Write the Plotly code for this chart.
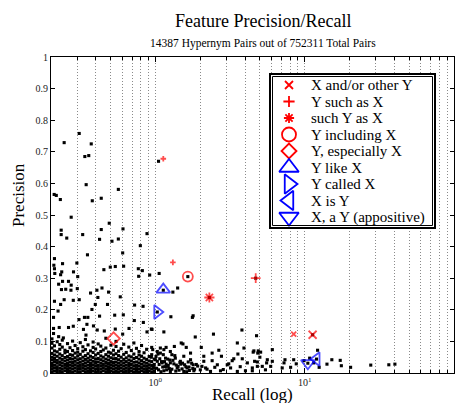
import plotly.graph_objects as go

# ---------------- data ----------------
upper_recall = [0.210, 0.217, 0.231, 0.245, 0.273, 0.309, 0.337, 0.358, 0.372, 0.344, 0.378, 0.434, 0.565, 1.05]
upper_precision = [0.565, 0.562, 0.549, 0.729, 0.493, 0.758, 0.685, 0.688, 0.725, 0.596, 0.545, 0.553, 0.581, 0.670]

mid_recall = [0.234, 0.234, 0.255, 0.326, 0.434, 0.423, 0.491, 0.512, 0.565, 0.607, 0.793, 0.879,
              0.211, 0.351, 0.604, 0.239, 0.209, 0.298, 0.211, 0.212, 0.236, 0.232, 0.283, 0.302, 0.452, 0.499, 0.539, 0.613, 0.769, 0.818, 0.773, 0.916,
              0.225, 0.239, 0.262, 0.273, 0.251, 0.235, 0.272, 0.300, 0.406, 0.368, 0.439, 0.486,
              0.211, 0.245, 0.282, 0.309, 0.396, 0.412, 0.478, 0.582, 0.726, 0.827, 0.223, 0.232,
              0.335, 0.353, 0.376, 0.308, 0.208, 0.423, 0.534, 0.610, 0.723, 0.831, 0.940, 0.879,
              0.208, 0.227, 0.262, 0.282, 0.348, 0.330, 0.385, 0.408, 0.455, 0.539, 0.666, 0.604, 0.208, 0.225, 0.242, 0.343]
mid_precision = [0.452, 0.438, 0.427, 0.438, 0.454, 0.423, 0.474, 0.417, 0.424, 0.456, 0.403, 0.441,
                 0.362, 0.374, 0.380, 0.346, 0.341, 0.348, 0.330, 0.315, 0.320, 0.311, 0.320, 0.305, 0.327, 0.335, 0.337, 0.338, 0.330, 0.324, 0.306, 0.310,
                 0.281, 0.290, 0.290, 0.278, 0.265, 0.264, 0.262, 0.267, 0.262, 0.253, 0.269, 0.256,
                 0.227, 0.232, 0.230, 0.232, 0.217, 0.239, 0.217, 0.241, 0.215, 0.211, 0.196, 0.217,
                 0.176, 0.176, 0.201, 0.169, 0.176, 0.180, 0.183, 0.184, 0.166, 0.160, 0.139, 0.130,
                 0.141, 0.144, 0.144, 0.148, 0.154, 0.138, 0.149, 0.136, 0.133, 0.139, 0.141, 0.123, 0.125, 0.115, 0.111, 0.120]

right_recall = [1.06, 1.31, 1.41, 1.13, 1.27, 1.79, 1.77, 0.95, 1.14, 1.85, 2.45, 3.80, 4.76, 1.65, 2.30, 4.70, 1.03,
                1.49, 1.53, 1.61, 1.34, 1.18, 1.14, 1.26, 1.08, 0.94, 2.03, 2.66, 2.77, 3.35, 3.57, 3.92, 4.52, 4.89, 3.82, 3.27,
                4.13, 4.82, 4.46, 3.03, 3.19, 2.60, 2.40, 2.11, 2.17, 2.00, 1.72, 1.79, 1.63, 1.47, 1.40, 1.36, 1.26, 1.17, 1.20, 1.11,
                1.03, 0.97, 1.05, 1.14, 1.26, 1.55, 1.81, 2.34, 2.73, 3.54, 4.01, 1.00, 1.08, 1.03, 0.96, 1.29, 1.72, 1.55, 2.11, 2.40, 3.54,
                4.57, 4.85, 5.07, 5.01, 4.62, 4.82, 5.20, 5.46, 4.46, 5.62, 5.56, 6.07, 6.07, 5.92, 7.07, 7.38, 7.27, 8.05, 8.44, 8.78,
                12.2, 10.8, 11.5, 12.5, 14.1, 15.2, 17.3, 17.6, 20.3, 9.9, 27.7, 36.6, 40.2, 11.3, 12.0, 10.5]
right_precision = [0.315, 0.256, 0.269, 0.262, 0.178, 0.181, 0.176, 0.138, 0.130, 0.114, 0.123, 0.136, 0.118, 0.305, 0.239, 0.300, 0.193,
                   0.095, 0.092, 0.081, 0.084, 0.081, 0.074, 0.068, 0.063, 0.050, 0.081, 0.072, 0.053, 0.045, 0.060, 0.079, 0.066, 0.070, 0.045, 0.039,
                   0.032, 0.035, 0.016, 0.026, 0.016, 0.026, 0.039, 0.037, 0.016, 0.010, 0.042, 0.026, 0.016, 0.037, 0.016, 0.047, 0.032, 0.047, 0.021, 0.032,
                   0.037, 0.021, 0.010, 0.007, 0.005, 0.005, 0.007, 0.005, 0.007, 0.005, 0.007, 0.042, 0.079, 0.068, 0.074, 0.058, 0.063, 0.053, 0.053, 0.063, 0.095,
                   0.070, 0.063, 0.066, 0.050, 0.037, 0.021, 0.021, 0.010, 0.007, 0.042, 0.032, 0.074, 0.037, 0.021, 0.016, 0.042, 0.032, 0.018, 0.042, 0.029,
                   0.072, 0.047, 0.032, 0.018, 0.028, 0.042, 0.040, 0.023, 0.018, 0.039, 0.025, 0.026, 0.028, 0.121, 0.044, 0.031]

tail_recall = [1.02, 1.06, 1.09, 1.12, 1.15, 1.19, 1.22, 1.25, 1.29, 1.33, 1.37, 1.42, 1.46, 1.51, 1.57, 1.62, 1.68, 1.75, 1.83, 1.92,
               1.01, 1.07, 1.13, 1.18, 1.24, 1.31, 1.38, 1.44, 1.52, 1.60, 1.69, 1.78, 1.88, 2.05, 2.22, 2.50, 2.85, 3.10, 3.70,
               1.04, 1.10, 1.16, 1.21, 1.35, 1.48, 1.66]
tail_precision = [0.015, 0.027, 0.004, 0.019, 0.036, 0.010, 0.024, 0.041, 0.012, 0.029, 0.006, 0.021, 0.033, 0.013, 0.026, 0.004, 0.019, 0.031, 0.012, 0.022,
                  0.052, 0.045, 0.058, 0.028, 0.014, 0.040, 0.025, 0.009, 0.031, 0.020, 0.008, 0.014, 0.027, 0.021, 0.012, 0.018, 0.011, 0.029, 0.020,
                  0.060, 0.036, 0.020, 0.044, 0.055, 0.028, 0.035]

# dense cloud at low recall / low precision: recall of each column and the precisions read in it
dense_recall = [0.203, 0.211, 0.220, 0.229, 0.238, 0.248, 0.258, 0.268, 0.279, 0.290, 0.302, 0.314, 0.327, 0.340,
                0.354, 0.368, 0.383, 0.398, 0.414, 0.431, 0.448, 0.466, 0.485, 0.504, 0.524, 0.545, 0.567, 0.590,
                0.614, 0.638, 0.664, 0.690, 0.718, 0.747, 0.777, 0.808, 0.840, 0.874, 0.909, 0.945, 0.983]
dense_precision = [
    [0.003, 0.012, 0.021, 0.030, 0.041, 0.050, 0.062, 0.079, 0.094, 0.108],
    [0.006, 0.016, 0.025, 0.036, 0.046, 0.057, 0.070, 0.086],
    [0.002, 0.011, 0.020, 0.031, 0.040, 0.053, 0.067, 0.099],
    [0.005, 0.015, 0.026, 0.035, 0.047, 0.060, 0.075, 0.090],
    [0.003, 0.012, 0.022, 0.032, 0.043, 0.055, 0.082, 0.104],
    [0.007, 0.017, 0.027, 0.038, 0.049, 0.064, 0.072],
    [0.002, 0.011, 0.021, 0.030, 0.041, 0.052, 0.068, 0.093],
    [0.005, 0.015, 0.025, 0.035, 0.046, 0.058, 0.080],
    [0.003, 0.013, 0.023, 0.033, 0.044, 0.056, 0.071, 0.101],
    [0.006, 0.016, 0.026, 0.037, 0.048, 0.063, 0.087],
    [0.002, 0.012, 0.021, 0.031, 0.042, 0.054, 0.066, 0.077],
    [0.004, 0.014, 0.024, 0.034, 0.045, 0.059, 0.096],
    [0.007, 0.017, 0.027, 0.038, 0.050, 0.069, 0.083],
    [0.003, 0.012, 0.022, 0.032, 0.043, 0.055, 0.074, 0.106],
    [0.005, 0.015, 0.025, 0.036, 0.047, 0.061, 0.089],
    [0.002, 0.011, 0.021, 0.030, 0.041, 0.053, 0.070],
    [0.006, 0.016, 0.026, 0.037, 0.049, 0.065, 0.081, 0.098],
    [0.003, 0.013, 0.023, 0.033, 0.044, 0.057, 0.076],
    [0.005, 0.014, 0.024, 0.035, 0.046, 0.062, 0.092],
    [0.002, 0.012, 0.022, 0.031, 0.042, 0.054, 0.068, 0.085],
    [0.007, 0.017, 0.027, 0.038, 0.050, 0.073],
    [0.004, 0.013, 0.023, 0.033, 0.044, 0.058, 0.079, 0.110],
    [0.002, 0.011, 0.020, 0.030, 0.041, 0.053, 0.066],
    [0.006, 0.016, 0.026, 0.036, 0.048, 0.063, 0.088],
    [0.003, 0.013, 0.023, 0.033, 0.045, 0.057, 0.072],
    [0.005, 0.015, 0.025, 0.035, 0.046, 0.061, 0.084, 0.100],
    [0.002, 0.012, 0.021, 0.031, 0.042, 0.055, 0.069],
    [0.006, 0.016, 0.026, 0.037, 0.050, 0.077],
    [0.003, 0.012, 0.022, 0.032, 0.043, 0.059, 0.091],
    [0.005, 0.015, 0.025, 0.036, 0.048, 0.065],
    [0.002, 0.011, 0.021, 0.030, 0.041, 0.054, 0.082],
    [0.006, 0.016, 0.027, 0.038, 0.051, 0.071],
    [0.003, 0.013, 0.023, 0.034, 0.046, 0.060, 0.095],
    [0.005, 0.014, 0.024, 0.035, 0.049, 0.078],
    [0.002, 0.012, 0.022, 0.032, 0.044, 0.057, 0.068],
    [0.007, 0.017, 0.028, 0.039, 0.053, 0.087],
    [0.004, 0.013, 0.023, 0.034, 0.047, 0.064],
    [0.002, 0.011, 0.021, 0.031, 0.043, 0.075],
    [0.006, 0.016, 0.026, 0.038, 0.052],
    [0.003, 0.013, 0.024, 0.036, 0.058, 0.081],
    [0.005, 0.015, 0.027, 0.044],
]

# pattern features
feature_names = ["X and/or other Y", "Y such as X", "such Y as X", "Y including X", "Y, especially X",
                 "Y like X", "Y called X", "X is Y", "X, a Y (appositive)"]
feature_recall = [[8.44, 11.3], [1.13, 1.31, 4.70], [2.30], [1.65], [0.525], [1.13], [1.03], [12.0], [10.5]]
feature_precision = [[0.123, 0.121], [0.678, 0.350, 0.300], [0.239], [0.305], [0.109], [0.264], [0.193], [0.044], [0.031]]

title_text = "Feature Precision/Recall"
subtitle_text = "14387 Hypernym Pairs out of 752311 Total Pairs"
x_label = "Recall (log)"
y_label = "Precision"
x_tickvals = [1, 10, 100]
x_ticktext = ["10<sup>0</sup>", "10<sup>1</sup>", "10<sup>2</sup>"]
x_minor_vals = [0.3, 0.4, 0.5, 0.6, 0.7, 0.8, 0.9, 2, 3, 4, 5, 6, 7, 8, 9, 20, 30, 40, 50, 60, 70, 80, 90]

# ---------------- styles ----------------
RED = "#ff0000"
BLUE = "#0000ff"
FONT = "Liberation Serif"
feature_symbols = ["x-thin-open", "cross-thin-open", "asterisk-open", "circle-open", "diamond-open",
                   "triangle-up-open", "triangle-right-open", "triangle-left-open", "triangle-down-open"]
feature_colors = [RED, RED, RED, RED, RED, BLUE, BLUE, BLUE, BLUE]
feature_sizes = [[5, 8], [4, 4, 7], [8.5], [10], [9.5], [12], [12], [12], [12]]
legend_sizes = [8, 8, 8.5, 14, 11.5, 17, 17, 17, 17]

fig = go.Figure()

# black point cloud
cloud_x, cloud_y = [], []
for r, plist in zip(dense_recall, dense_precision):
    for p in plist:
        cloud_x.append(r)
        cloud_y.append(p)
for xs, ys in [(tail_recall, tail_precision), (right_recall, right_precision),
               (mid_recall, mid_precision), (upper_recall, upper_precision)]:
    cloud_x.extend(xs)
    cloud_y.extend(ys)

fig.add_trace(go.Scatter(x=cloud_x, y=cloud_y, mode="markers",
                         marker=dict(symbol="square", size=3.1, color="black", line=dict(width=0)),
                         showlegend=False, hoverinfo="skip"))

for name, xs, ys, sym, col, sz in zip(feature_names, feature_recall, feature_precision,
                                      feature_symbols, feature_colors, feature_sizes):
    fig.add_trace(go.Scatter(x=xs, y=ys, mode="markers", name=name,
                             marker=dict(symbol=sym, size=sz, color=col,
                                         line=dict(color=col, width=1.8)),
                             showlegend=False))

# ---------------- custom legend in its own small subplot ----------------
px_w, px_h = 167, 156
n = len(feature_names)
leg_y = [144 - 16.5 * i for i in range(n)]
for i in range(n):
    fig.add_trace(go.Scatter(x=[20], y=[leg_y[i]], mode="markers", xaxis="x2", yaxis="y2",
                             marker=dict(symbol=feature_symbols[i], size=legend_sizes[i],
                                         color=feature_colors[i],
                                         line=dict(color=feature_colors[i], width=1.8)),
                             showlegend=False, hoverinfo="skip"))
    fig.add_annotation(x=40, y=leg_y[i], xref="x2", yref="y2", text=feature_names[i],
                       showarrow=False, xanchor="left", yanchor="middle",
                       font=dict(family=FONT, size=15, color="black"))

fig.add_shape(type="rect", xref="x2", yref="y2", x0=1, x1=px_w - 1, y0=1, y1=px_h - 1,
              line=dict(color="black", width=2))
fig.add_shape(type="rect", xref="x2", yref="y2", x0=3.5, x1=px_w - 3.5, y0=3.5, y1=px_h - 3.5,
              line=dict(color="black", width=1))

# ---------------- layout ----------------
L, R, T, B = 51, 4, 57, 30
W, H = 458, 403
pw, ph = W - L - R, H - T - B


def pxx(v):
    return (v - L) / pw


def pxy(v):
    return (H - B - v) / ph


GRID = "#8a8a8a"
fig.update_layout(
    width=W, height=H,
    margin=dict(l=L, r=R, t=T, b=B, pad=0),
    paper_bgcolor="white", plot_bgcolor="white",
    showlegend=False,
    font=dict(family=FONT, color="black"),
    xaxis=dict(type="log", range=[-0.69897, 2], tickvals=x_tickvals, ticktext=x_ticktext,
               ticks="inside", ticklen=5, tickwidth=1, tickcolor="black",
               showline=True, linecolor="black", linewidth=1.2, mirror="ticks",
               showgrid=True, gridcolor=GRID, gridwidth=1, griddash="1px,2px",
               zeroline=False, tickfont=dict(family=FONT, size=10, color="#222"),
               minor=dict(tickvals=x_minor_vals, ticks="inside", ticklen=3, tickcolor="black",
                          showgrid=True, gridcolor=GRID, gridwidth=1, griddash="1px,2px"),
               domain=[0, 1]),
    yaxis=dict(range=[0, 1], tick0=0, dtick=0.1, ticks="inside", ticklen=4, tickcolor="black",
               showline=True, linecolor="black", linewidth=1.2, mirror="ticks",
               showgrid=False, zeroline=False,
               tickfont=dict(family=FONT, size=10, color="#222"), domain=[0, 1]),
    xaxis2=dict(domain=[pxx(269), pxx(269 + px_w)], range=[0, px_w], visible=False,
                anchor="y2", fixedrange=True),
    yaxis2=dict(domain=[pxy(73 + px_h), pxy(73)], range=[0, px_h], visible=False,
                anchor="x2", fixedrange=True),
)

fig.add_annotation(x=pxx(263), y=pxy(21), xref="paper", yref="paper", text=title_text,
                   showarrow=False, xanchor="center", yanchor="middle",
                   font=dict(family=FONT, size=18, color="black"))
fig.add_annotation(x=pxx(263), y=pxy(43), xref="paper", yref="paper", text=subtitle_text,
                   showarrow=False, xanchor="center", yanchor="middle",
                   font=dict(family=FONT, size=11.5, color="black"))
fig.add_annotation(x=pxx(252), y=pxy(394), xref="paper", yref="paper", text=x_label,
                   showarrow=False, xanchor="center", yanchor="middle",
                   font=dict(family=FONT, size=17, color="black"))
fig.add_annotation(x=pxx(18), y=pxy(195), xref="paper", yref="paper", text=y_label,
                   showarrow=False, xanchor="center", yanchor="middle", textangle=-90,
                   font=dict(family=FONT, size=17, color="black"))

fig.write_html("out.html", config={"displayModeBar": False},
               post_script="document.body.style.margin='0px';")
